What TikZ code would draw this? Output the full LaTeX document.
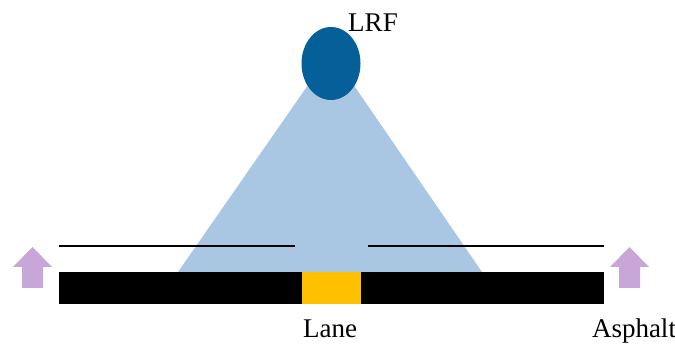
\documentclass[tikz,border=0pt]{standalone}
\usepackage{fontspec}
\setmainfont{Liberation Serif}
\usetikzlibrary{shapes.geometric}
\definecolor{beamblue}{RGB}{169,198,227}
\definecolor{sensorblue}{RGB}{5,96,153}
\definecolor{laneyellow}{RGB}{255,192,0}
\definecolor{arrowlilac}{RGB}{201,166,216}
\tikzset{
  label text/.style={font=\fontsize{27}{30}\selectfont, inner sep=0pt, anchor=base},
  upshaft/.style={fill=arrowlilac, draw=none},
  edgeline/.style={line width=2pt, black},
}
\begin{document}
\begin{tikzpicture}[x=1pt,y=-1pt]
  \useasboundingbox (0,0) rectangle (675,344);
  % sensing beam
  \fill[beamblue] (331,52) -- (482,272) -- (178,272) -- cycle;
  % road surface with lane marking
  \fill[black] (59,272) rectangle (604,304);
  \fill[laneyellow] (302,272) rectangle (361,304);
  % road edges
  \coordinate (l1) at (59,246.5);
  \coordinate (l2) at (295,246.5);
  \coordinate (r1) at (368,246.5);
  \coordinate (r2) at (604,246.5);
  \draw[edgeline] (l1) -- (l2);
  \draw[edgeline] (r1) -- (r2);
  % sensor
  \node[ellipse, fill=sensorblue, minimum width=59pt, minimum height=73pt, inner sep=0pt] (lrf) at (331,63.5) {};
  \node[label text] (lrftext) at (373,32) {LRF};
  % upward arrows
  \fill[upshaft] (32.5,247) -- (52,267) -- (43,267) -- (43,288) -- (22,288) -- (22,267) -- (13,267) -- cycle;
  \fill[upshaft] (629.5,247) -- (649,267) -- (640,267) -- (640,288) -- (619,288) -- (619,267) -- (610,267) -- cycle;
  % labels
  \node[label text] (lane) at (330,338) {Lane};
  \node[label text] (asphalt) at (634,338) {Asphalt};
\end{tikzpicture}
\end{document}
